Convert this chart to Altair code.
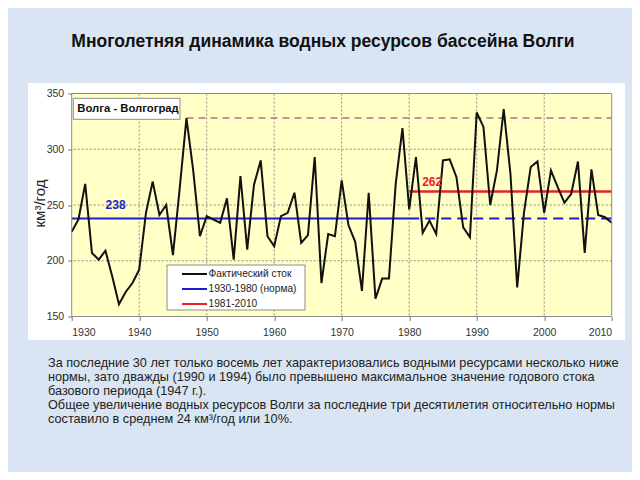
import altair as alt
import pandas as pd

# ---------------- data ----------------
years = list(range(1930, 2011))
flow = [226, 237, 269, 207, 201, 209, 186, 161, 172, 180,
        192, 243, 271, 241, 250, 205, 265, 328, 281, 222,
        240, 237, 234, 256, 201, 276, 210, 268, 290, 222,
        213, 240, 243, 261, 216, 223, 293, 180, 224, 222,
        272, 232, 217, 173, 261, 166, 184, 184, 269, 319,
        246, 293, 225, 236, 224, 290, 291, 275, 230, 221,
        333, 320, 250, 281, 336, 278, 176, 243, 284, 289,
        243, 281, 266, 252, 260, 289, 207, 282, 241, 239,
        234]

norm_value = 238          # 1930-1980
recent_value = 262        # 1981-2010
max_1947 = 328
norm_period = [1930, 1980]
recent_period = [1980, 2010]
max_period = [1947, 2010]

x_ticks = [1930, 1940, 1950, 1960, 1970, 1980, 1990, 2000, 2010]
y_ticks = [150, 200, 250, 300, 350]

title_text = "Многолетняя динамика водных ресурсов бассейна Волги"
station_text = "Волга - Волгоград"
y_title = "км³/год"
legend_labels = ["Фактический сток", "1930-1980 (норма)", "1981-2010"]
paragraph = [
    "За последние 30 лет только восемь лет характеризовались водными ресурсами несколько ниже",
    "нормы, зато дважды (1990 и 1994) было превышено максимальное значение годового стока",
    "базового периода (1947 г.).",
    "Общее увеличение водных ресурсов Волги за последние три десятилетия относительно нормы",
    "составило в среднем 24 км³/год или 10%.",
]

# ---------------- styles ----------------
FONT = "Liberation Sans"
BLUE = "#1c1cd0"
RED = "#e8202a"
BLACK = "#111111"
MAXC = "#b07088"
W, H = 540, 223

df = pd.DataFrame({"year": years, "flow": flow})
one = pd.DataFrame({"a": [0]})

xs = alt.Scale(domain=[1930, 2010], nice=False, zero=False)
ys = alt.Scale(domain=[150, 350], nice=False, zero=False)


def box(x, x2, y, y2, **kw):
    return alt.Chart(one).mark_rect(**kw).encode(
        x=alt.value(x), x2=alt.value(x2), y=alt.value(y), y2=alt.value(y2))


def txt(s, x, y, **kw):
    return alt.Chart(one).mark_text(text=s, font=FONT, **kw).encode(
        x=alt.value(x), y=alt.value(y))


def seg(x, x2, y, **kw):
    return alt.Chart(one).mark_rule(**kw).encode(
        x=alt.value(x), x2=alt.value(x2), y=alt.value(y))


# white panel and yellow plot area
panel = box(-43.7, 553.3, -10.5, 246.5, color="white")
plotbg = box(0, W, 0, H, color="#ffffc6")

# grid
xgrid = alt.Chart(pd.DataFrame({"g": x_ticks[1:-1]})).mark_rule(
    color="#8a8a8a", strokeDash=[2, 2], strokeWidth=1).encode(
    x=alt.X("g:Q", scale=xs))
ygrid = alt.Chart(pd.DataFrame({"g": y_ticks[1:-1]})).mark_rule(
    color="#8a8a8a", strokeDash=[2, 2], strokeWidth=1).encode(
    y=alt.Y("g:Q", scale=ys))

# reference lines
def hline(period, value, **kw):
    d = pd.DataFrame({"x": [period[0]], "x2": [period[1]], "y": [value]})
    return alt.Chart(d).mark_rule(**kw).encode(
        x=alt.X("x:Q", scale=xs), x2="x2:Q", y=alt.Y("y:Q", scale=ys))

max_line = hline(max_period, max_1947, color=MAXC, strokeWidth=1.5, strokeDash=[7, 5])
norm_line = hline(norm_period, norm_value, color=BLUE, strokeWidth=2)
norm_dash = hline(recent_period, norm_value, color=BLUE, strokeWidth=2, strokeDash=[10, 6])
recent_line = hline(recent_period, recent_value, color=RED, strokeWidth=2.5)

# main series
line = alt.Chart(df).mark_line(color=BLACK, strokeWidth=2).encode(
    x=alt.X("year:Q", scale=xs,
            axis=alt.Axis(values=x_ticks, format="d", title=None, grid=False,
                          domain=False, tickSize=4, tickColor="#777",
                          labelPadding=7, labelFontSize=10.5, labelColor="#333",
                          labelFont=FONT, zindex=1)),
    y=alt.Y("flow:Q", scale=ys,
            axis=alt.Axis(values=y_ticks, title=None, grid=False,
                          domain=False, tickSize=4, tickColor="#777",
                          labelPadding=4, labelFontSize=10.5, labelColor="#333",
                          labelFont=FONT, zindex=1)),
)

# value labels
lab_df = pd.DataFrame({"x": [1936.5, 1983.4], "y": [norm_value, recent_value],
                       "t": [str(norm_value), str(recent_value)]})
lab238 = alt.Chart(lab_df.iloc[[0]]).mark_text(
    font=FONT, fontSize=12, fontWeight="bold", color=BLUE, dy=-13.5).encode(
    x=alt.X("x:Q", scale=xs), y=alt.Y("y:Q", scale=ys), text="t:N")
lab262 = alt.Chart(lab_df.iloc[[1]]).mark_text(
    font=FONT, fontSize=12, fontWeight="bold", color=RED, dy=-10).encode(
    x=alt.X("x:Q", scale=xs), y=alt.Y("y:Q", scale=ys), text="t:N")

# border of plot area
border = box(0, W, 0, H, fillOpacity=0, stroke="#8c8c8c", strokeWidth=1)

# station box
st_box = box(1.6, 108.3, 4.8, 25.8, color="white", stroke="#8c8c8c", strokeWidth=1)
st_txt = txt(station_text, 5.6, 15.5, align="left", baseline="middle",
             fontSize=11.3, fontWeight="bold", color="#111")

# legend
lg_box = box(95.3, 233.3, 171.5, 216.5, color="white", stroke="#8c8c8c", strokeWidth=1)
lg_rows = [180.5, 195.5, 210.5]
lg_cols = [BLACK, BLUE, RED]
legend_layers = [lg_box]
for lbl, yy, cc in zip(legend_labels, lg_rows, lg_cols):
    legend_layers.append(seg(110.3, 135.3, yy, color=cc, strokeWidth=2))
    legend_layers.append(txt(lbl, 136.8, yy, align="left", baseline="middle",
                             fontSize=10.2, color="#222"))

# titles and text
title = txt(title_text, 251.3, -47, align="center", baseline="alphabetic",
            fontSize=17.5, fontWeight="bold", color="#111")
ytitle = txt(y_title, -31.7, 110, align="center", baseline="middle",
             fontSize=15, angle=270, color="#222")
para_layers = []
for i, s in enumerate(paragraph):
    para_layers.append(txt(s, -23.7, 269.5 + 14 * i, align="left", baseline="middle",
                           fontSize=12.7, color="#222"))

chart = alt.layer(
    panel, plotbg, xgrid, ygrid,
    max_line, norm_line, norm_dash, recent_line, line,
    lab238, lab262, border, st_box, st_txt, *legend_layers,
    title, ytitle, *para_layers,
).properties(
    width=W, height=H,
    padding={"left": 63.7, "top": 85.5, "right": 20.3, "bottom": 155.5},
    autosize=alt.AutoSizeParams(type="none"),
    background="#d9e5f2",
).configure_view(strokeWidth=0)

chart.save("out.html", embed_options={"renderer": "svg", "actions": False})
